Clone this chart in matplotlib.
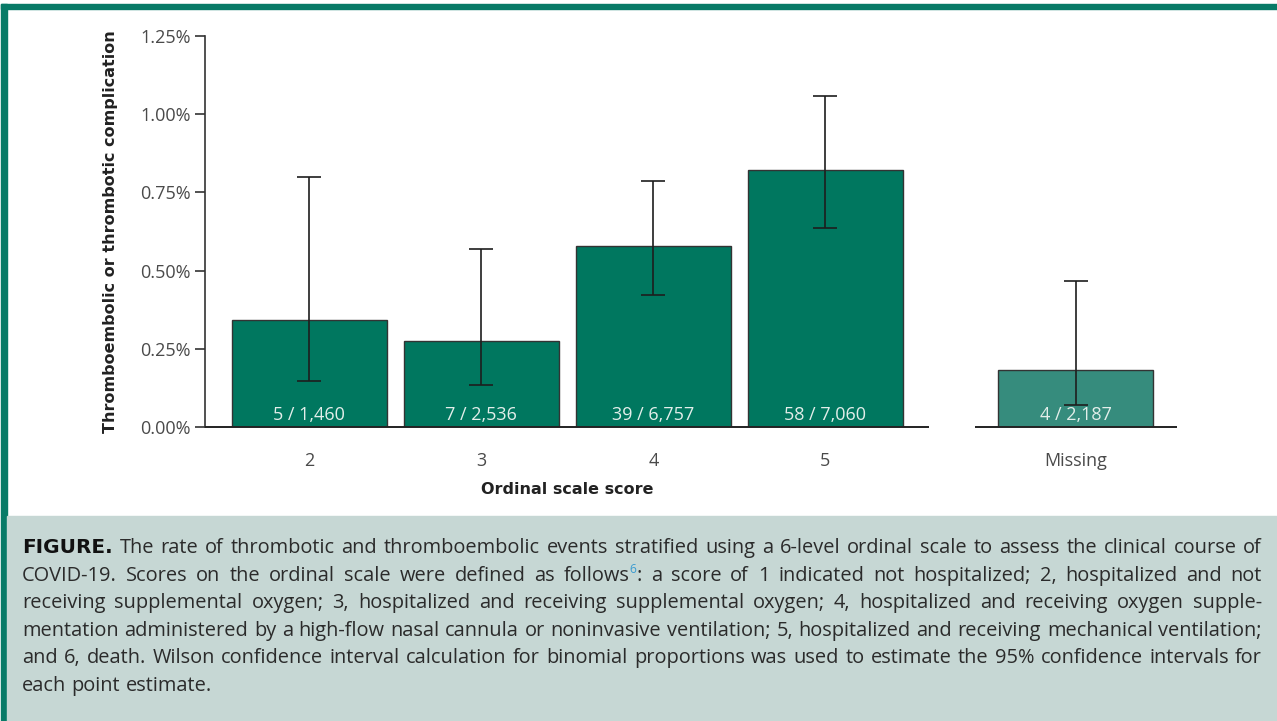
import matplotlib
matplotlib.use("Agg")
import matplotlib.pyplot as plt
from matplotlib.patches import Rectangle
from matplotlib.transforms import IdentityTransform, blended_transform_factory

# events / patients per ordinal score
categories = ["2", "3", "4", "5", "Missing"]
events = [5, 7, 39, 58, 4]
patients = [1460, 2536, 6757, 7060, 2187]
# Wilson 95% interval bounds, in percent
ci_low = [0.147, 0.134, 0.422, 0.636, 0.070]
ci_high = [0.799, 0.569, 0.786, 1.058, 0.467]
y_ticks = [0.0, 0.25, 0.50, 0.75, 1.00, 1.25]
y_tick_labels = ["0.00%", "0.25%", "0.50%", "0.75%", "1.00%", "1.25%"]

caption_lines = [
    "**FIGURE. The rate of thrombotic and thromboembolic events stratified using a 6-level ordinal scale to assess the clinical course of",
    "COVID-19. Scores on the ordinal scale were defined as follows^6: a score of 1 indicated not hospitalized; 2, hospitalized and not",
    "receiving supplemental oxygen; 3, hospitalized and receiving supplemental oxygen; 4, hospitalized and receiving oxygen supple-",
    "mentation administered by a high-flow nasal cannula or noninvasive ventilation; 5, hospitalized and receiving mechanical ventilation;",
    "and 6, death. Wilson confidence interval calculation for binomial proportions was used to estimate the 95% confidence intervals for",
    "each point estimate.",
]

GREEN = "#087a67"
BAR = "#00775f"
BAR_MISSING = "#368c7d"
CAPTION_BG = "#c6d7d4"
BODY_FONT = ["Open Sans", "DejaVu Sans"]
LABEL_FONT = ["DejaVu Sans"]

W, H = 1277, 721
fig = plt.figure(figsize=(W / 100, H / 100), dpi=100)
fig.patch.set_facecolor("white")

# frame and caption panel
fig.patches.append(Rectangle((1 / W, 0), 6 / W, (H - 4) / H, transform=fig.transFigure,
                             color=GREEN, zorder=0))
fig.patches.append(Rectangle((1 / W, (H - 9) / H), (W - 1) / W, 5 / H, transform=fig.transFigure,
                             color=GREEN, zorder=0))
fig.patches.append(Rectangle((7 / W, 0), (W - 7) / W, (H - 516) / H, transform=fig.transFigure,
                             color=CAPTION_BG, zorder=0))

ax = fig.add_axes([205 / W, 294 / H, (1177 - 205) / W, (685 - 294) / H])

rates = [100 * e / n for e, n in zip(events, patients)]
positions = [0, 1, 2, 3, 4.456]
colors = [BAR] * 4 + [BAR_MISSING]
err_low = [r - lo for r, lo in zip(rates, ci_low)]
err_high = [hi - r for r, hi in zip(rates, ci_high)]

ax.bar(positions, rates, width=0.9, color=colors, edgecolor="#333333", linewidth=1.0, zorder=2)
ax.errorbar(positions, rates, yerr=[err_low, err_high], fmt="none", ecolor="#1e1e1e",
            elinewidth=1.2, capsize=8.5, capthick=1.2, zorder=3)

for x, e, n in zip(positions, events, patients):
    ax.text(x, 0.022, f"{e} / {n:,}", ha="center", va="baseline",
            color="#e3eeea", fontsize=13, fontfamily=BODY_FONT, zorder=4)

ax.set_xlim(-0.607, positions[-1] + 0.588)
ax.set_ylim(0, 1.25)
for spine in ["top", "right", "bottom"]:
    ax.spines[spine].set_visible(False)
ax.spines["left"].set_color("#333333")
ax.spines["left"].set_linewidth(1.2)
ax.hlines(0, -0.607, 3.6, color="#222222", linewidth=1.4, zorder=5, clip_on=False)
ax.hlines(0, positions[-1] - 0.587, positions[-1] + 0.588, color="#222222", linewidth=1.4,
          zorder=5, clip_on=False)

ax.set_yticks(y_ticks)
ax.set_yticklabels(y_tick_labels)
ax.tick_params(axis="y", direction="out", length=7, width=1.2, color="#333333", pad=3,
               labelsize=13, labelcolor="#4a4a4a")
ax.set_xticks(positions)
ax.set_xticklabels(categories)
ax.tick_params(axis="x", length=0, pad=18, labelsize=13, labelcolor="#4a4a4a")
for lbl in ax.get_xticklabels() + ax.get_yticklabels():
    lbl.set_fontfamily(BODY_FONT)

# x label sits under the four scored groups, not the whole axis
ax.set_xlabel("Ordinal scale score", fontfamily=LABEL_FONT, fontweight="bold", fontsize=11.5,
              color="#222222", va="center")
ax.xaxis.set_label_coords(1.5, -0.159, transform=blended_transform_factory(ax.transData, ax.transAxes))
ax.set_ylabel("Thromboembolic or thrombotic complication", fontfamily=LABEL_FONT,
              fontweight="bold", fontsize=11.5, color="#222222", labelpad=16)

# justified caption, drawn word by word in pixel coordinates
renderer = fig.canvas.get_renderer()
left, right = 22, 1262
baseline0, leading = 553, 27.6
SPACE_EM = 0.27


def make_words(line):
    words = []
    for w in line.split():
        if w.startswith("**"):
            words.append([(w[2:], "bold")])
        elif "^" in w:
            head, rest = w.split("^")
            words.append([(head, None), (rest[0], "sup"), (rest[1:], None)])
        else:
            words.append([(w, None)])
    return words


def draw_segment(x, y, text, style, size):
    kw = dict(fontfamily=BODY_FONT, fontsize=size, color="#2b2b2b", va="baseline",
              ha="left", transform=IdentityTransform())
    if style == "bold":
        kw.update(fontfamily=LABEL_FONT, fontweight="bold", color="#111111")
    elif style == "sup":
        kw.update(fontsize=size * 0.6, color="#3a9bd0")
        y += 8
    t = fig.text(x, y, text, **kw)
    return t, t.get_window_extent(renderer).width


def layout_line(words, y, size):
    drawn = [[draw_segment(0, y, text, style, size) for text, style in word] for word in words]
    widths = [sum(w for _, w in segs) for segs in drawn]
    return drawn, widths


# pick the largest caption size at which every line fits with ordinary word spacing
need = 0
for line in caption_lines:
    drawn, widths = layout_line(make_words(line), 0, 10)
    for segs in drawn:
        for t, _ in segs:
            t.remove()
    px_per_pt = renderer.points_to_pixels(1)
    need = max(need, sum(widths) / 10 + (len(widths) - 1) * SPACE_EM * px_per_pt)
cap_size = (right - left) / need

for i, line in enumerate(caption_lines):
    y = H - (baseline0 + i * leading)
    drawn, widths = layout_line(make_words(line), y, cap_size)
    space = renderer.points_to_pixels(cap_size) * SPACE_EM
    if i < len(caption_lines) - 1:
        space = (right - left - sum(widths)) / (len(widths) - 1)
    x = left
    for segs, width in zip(drawn, widths):
        cx = x
        for t, w in segs:
            t.set_x(cx)
            cx += w
        x += width + space

fig.savefig("out.png", dpi=100)
